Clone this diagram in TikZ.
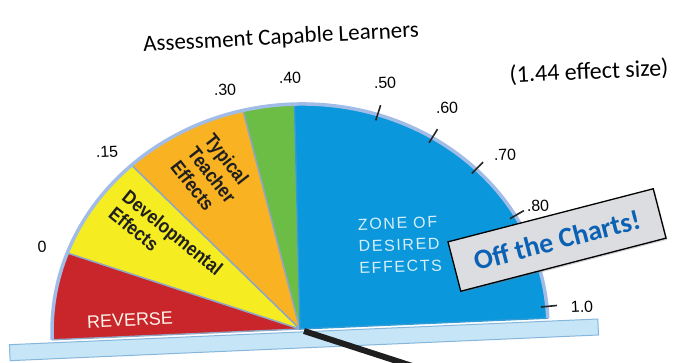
\documentclass[tikz,border=0pt]{standalone}
\usepackage{fontspec}
\setmainfont{Liberation Sans}
\newfontfamily\calib{Carlito}
\newfontfamily\zonefont[LetterSpace=10]{Liberation Sans}
\newfontfamily\narrowbold[FakeStretch=0.88]{Liberation Sans Bold}
\usetikzlibrary{shadows}
\definecolor{revred}{HTML}{C8262B}
\definecolor{devyel}{HTML}{F6EC22}
\definecolor{teachor}{HTML}{F8B222}
\definecolor{grn}{HTML}{6CBD45}
\definecolor{zoneblue}{HTML}{0A97DC}
\definecolor{rimblue}{HTML}{A2BCE8}
\definecolor{sepline}{HTML}{8FA6C6}
\definecolor{barfill}{HTML}{C6E5F7}
\definecolor{barline}{HTML}{86B6DC}
\definecolor{offblue}{HTML}{0B62B4}
\definecolor{boxgrey}{HTML}{DCDDE0}
\definecolor{zonetext}{HTML}{D8EEF8}
\begin{document}
\begin{tikzpicture}[x=1pt,y=1pt,
  sector/.style={draw=sepline, line width=1.4pt, line join=round},
  rim/.style={draw=rimblue, line width=3.5pt},
  tickmark/.style={line width=1.6pt, black!85},
  scalelbl/.style={font=\fontsize{16}{16}\selectfont, inner sep=0pt, rotate=2.5},
  sectortext/.style={font=\narrowbold\fontsize{19.5}{21.5}\selectfont, align=left, inner sep=0pt, text=black!88},
  needle/.style={line width=6pt, black!88},
  offbox/.style={draw=black, line width=1.3pt, fill=boxgrey, minimum width=212pt, minimum height=51pt,
     rotate=14.5, font=\calib\fontsize{28}{28}\bfseries\selectfont, text=offblue,
     drop shadow={shadow xshift=1.5pt, shadow yshift=-1.5pt, opacity=0.35}}
]
\useasboundingbox (0,0) rectangle (677,362);
\clip (0,0) rectangle (677,362);
\fill[white] (0,0) rectangle (677,362);
\coordinate (C) at (300,33);
\begin{scope}[shift={(300,33)}, rotate=2.5]
  \draw[fill=barfill, draw=barline, line width=1pt] (-291,-3) -- (298,-3) -- (298,-19) -- (-291,-19) -- cycle;
  \path[sector, fill=revred] (0,0) -- (180:248pt and 225pt) arc[start angle=180, end angle=157.5, x radius=248pt, y radius=225pt] -- cycle;
  \path[sector, fill=devyel] (0,0) -- (157.5:248pt and 225pt) arc[start angle=157.5, end angle=130.5, x radius=248pt, y radius=225pt] -- cycle;
  \path[sector, fill=teachor] (0,0) -- (130.5:248pt and 225pt) arc[start angle=130.5, end angle=101, x radius=248pt, y radius=225pt] -- cycle;
  \path[sector, fill=grn] (0,0) -- (101:248pt and 225pt) arc[start angle=101, end angle=89, x radius=248pt, y radius=225pt] -- cycle;
  \path[sector, fill=zoneblue, draw=zoneblue!70!sepline] (0,0) -- (89:248pt and 225pt) arc[start angle=89, end angle=0, x radius=248pt, y radius=225pt] -- cycle;
  \draw[rim] (180:248pt and 225pt) arc[start angle=180, end angle=0, x radius=248pt, y radius=225pt];
  \foreach \t in {69.5,55.5,42.5,27.5,3}{
    \draw[tickmark] (\t:242pt and 219pt) -- (\t:258pt and 235pt);
  }
\end{scope}
\coordinate (needleStart) at (304,31);
\coordinate (needleEnd) at (440,-13);
\draw[needle] (needleStart) -- (needleEnd);

\node[font=\calib\fontsize{23}{23}\selectfont, rotate=3, inner sep=0pt] (title) at (281,324) {Assessment Capable Learners};
\node[font=\calib\fontsize{24}{24}\selectfont, rotate=2.5, inner sep=0pt] (effect) at (589,290) {(1.44 effect size)};

\node[scalelbl] (l0) at (42,115) {0};
\node[scalelbl] (l15) at (107,210) {.15};
\node[scalelbl] (l30) at (225,272) {.30};
\node[scalelbl] (l40) at (290,284) {.40};
\node[scalelbl] (l50) at (385,279) {.50};
\node[scalelbl] (l60) at (447,254) {.60};
\node[scalelbl] (l70) at (505,207) {.70};
\node[scalelbl] (l80) at (538,156) {.80};
\node[scalelbl] (l10) at (582,55) {1.0};

\node[font=\fontsize{18}{18}\selectfont, text=white!92!orange, rotate=2.5, inner sep=0pt] (reverse) at (130,42) {REVERSE};
\node[sectortext, rotate=-39] (dev) at (166,121) {Developmental\\Effects};
\node[sectortext, rotate=-52] (typ) at (212,187) {Typical\\Teacher\\Effects};
\node[font=\zonefont\fontsize{16}{21.7}\selectfont, text=zonetext, align=left, inner sep=0pt, rotate=2] (zone) at (400,117) {ZONE OF\\DESIRED\\EFFECTS};

\node[offbox] (off) at (557,122) {Off the Charts!};
\end{tikzpicture}
\end{document}
